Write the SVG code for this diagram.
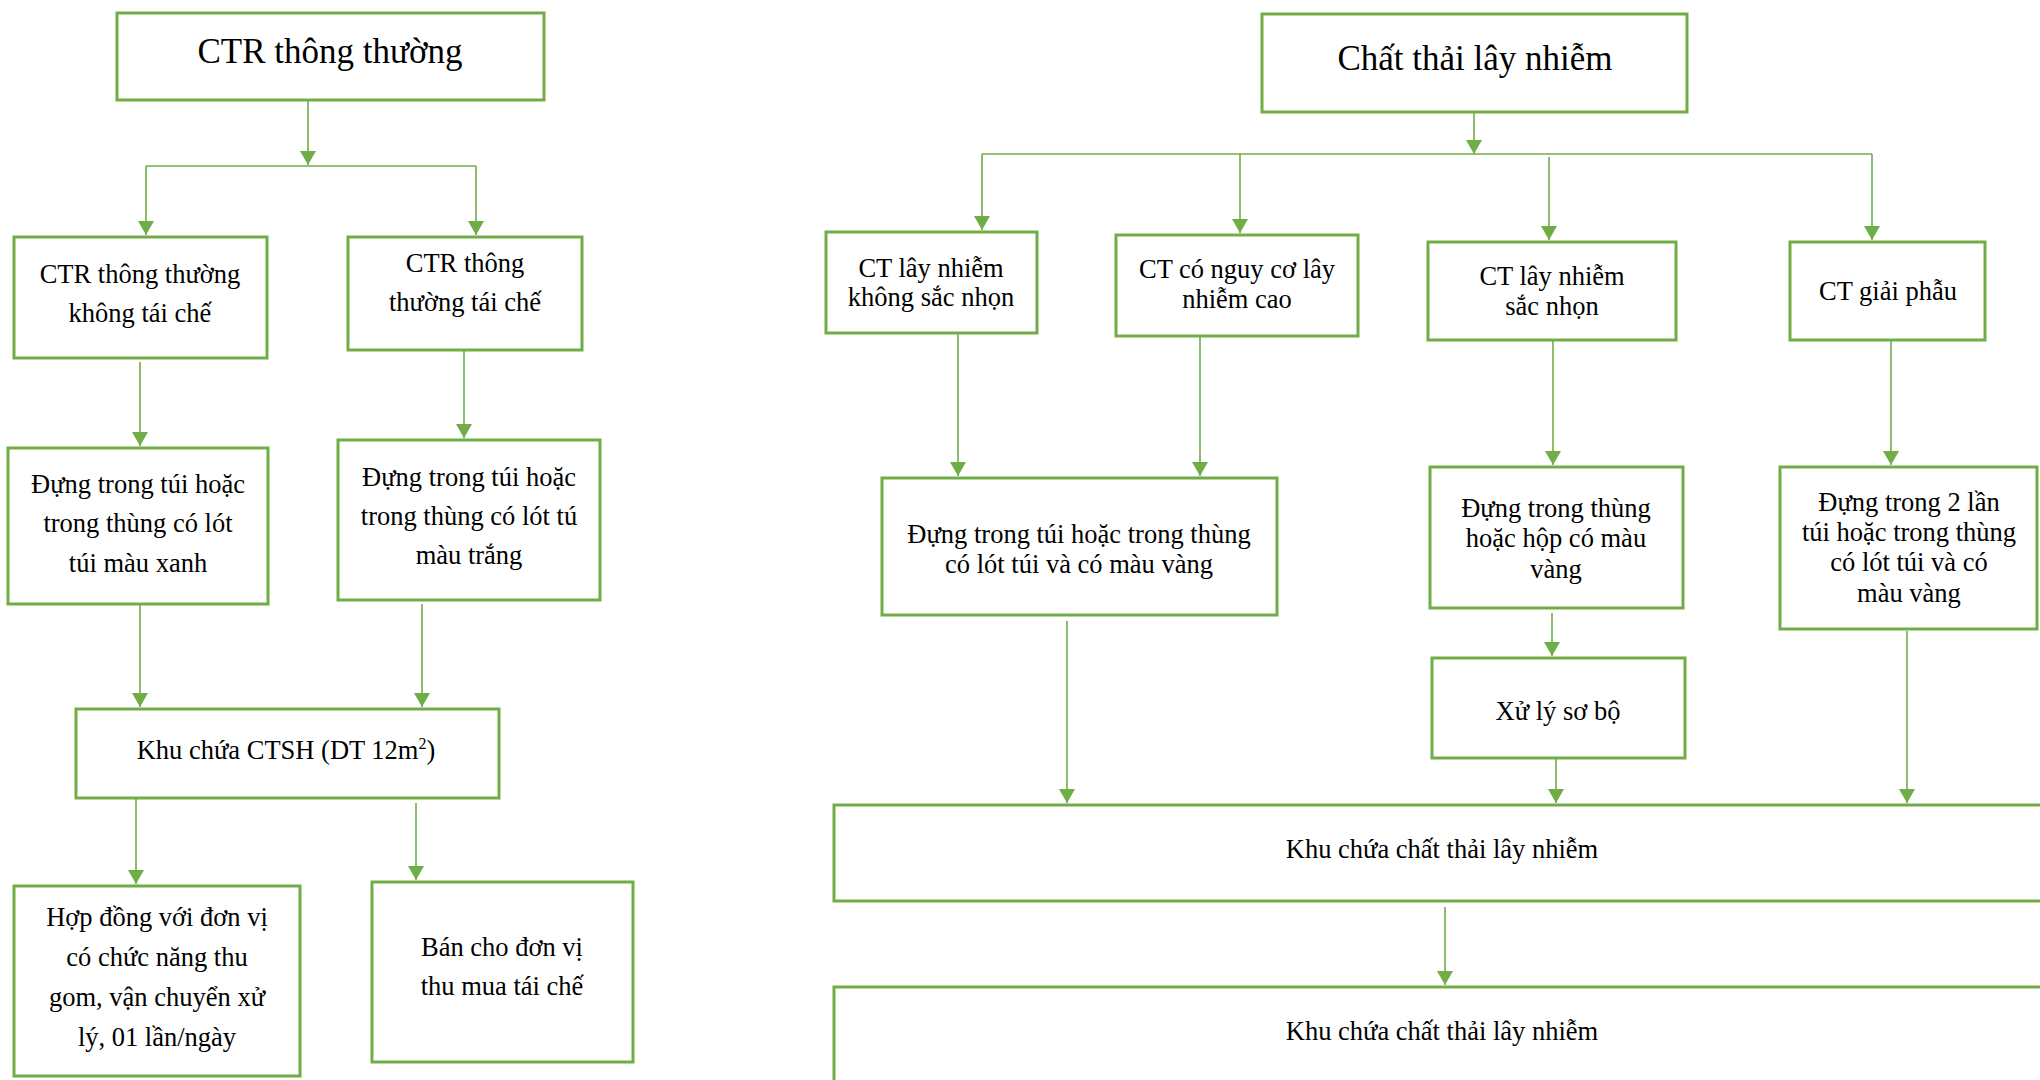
<svg xmlns="http://www.w3.org/2000/svg" width="2040" height="1080" viewBox="0 0 2040 1080">
  <defs>
    <marker id="arrow" markerUnits="userSpaceOnUse" markerWidth="14" markerHeight="16" viewBox="0 0 14 16" refX="14" refY="8" orient="auto">
      <path d="M0,0 L14,8 L0,16 z" fill="#70AD47"/>
    </marker>
    <style>
      .box { fill: #FFFFFF; stroke: #70AD47; stroke-width: 3; }
      .link { fill: none; stroke: #70AD47; stroke-width: 1.6; }
      .arr { marker-end: url(#arrow); }
      text { font-family: "Liberation Serif", "Times New Roman", serif; fill: #000000; text-anchor: middle; }
      .t1 { font-size: 35px; }
      .t2 { font-size: 26.5px; }
    </style>
  </defs>
  <rect width="2040" height="1080" fill="#FFFFFF"/>

  <!-- connectors -->
  <g id="connectors">
    <!-- ordinary solid waste branch -->
    <path class="link arr" d="M308,100 V165"/>
    <path class="link" d="M146,166 H476"/>
    <path class="link arr" d="M146,166 V235"/>
    <path class="link arr" d="M476,166 V235"/>
    <path class="link arr" d="M140,362 V446"/>
    <path class="link arr" d="M464,351 V438"/>
    <path class="link arr" d="M140,604 V707"/>
    <path class="link arr" d="M422,604 V707"/>
    <path class="link arr" d="M136,799 V884"/>
    <path class="link arr" d="M416,803 V880"/>
    <!-- infectious waste branch -->
    <path class="link arr" d="M1474,112 V154"/>
    <path class="link" d="M982,154 H1872"/>
    <path class="link arr" d="M982,154 V230"/>
    <path class="link arr" d="M1240,154 V233"/>
    <path class="link arr" d="M1549,157 V240"/>
    <path class="link arr" d="M1872,154 V240"/>
    <path class="link arr" d="M958,333 V476"/>
    <path class="link arr" d="M1200,336 V476"/>
    <path class="link arr" d="M1553,340 V465"/>
    <path class="link arr" d="M1891,340 V465"/>
    <path class="link arr" d="M1067,621 V803"/>
    <path class="link arr" d="M1552,613 V656"/>
    <path class="link arr" d="M1556,759 V803"/>
    <path class="link arr" d="M1907,631 V803"/>
    <path class="link arr" d="M1445,907 V985"/>
  </g>

  <!-- ordinary solid waste -->
  <g id="ctr-thong-thuong">
    <rect class="box" x="117" y="13" width="427" height="87"/>
    <text class="t1" x="330" y="63">CTR thông thường</text>
  </g>
  <g id="ctr-khong-tai-che">
    <rect class="box" x="14" y="237" width="253" height="121"/>
    <text class="t2" x="140" y="283">CTR thông thường</text>
    <text class="t2" x="140" y="322">không tái chế</text>
  </g>
  <g id="ctr-tai-che">
    <rect class="box" x="348" y="237" width="234" height="113"/>
    <text class="t2" x="465" y="272">CTR thông</text>
    <text class="t2" x="465" y="311">thường tái chế</text>
  </g>
  <g id="tui-mau-xanh">
    <rect class="box" x="8" y="448" width="260" height="156"/>
    <text class="t2" x="138" y="493">Đựng trong túi hoặc</text>
    <text class="t2" x="138" y="532">trong thùng có lót</text>
    <text class="t2" x="138" y="572">túi màu xanh</text>
  </g>
  <g id="tui-mau-trang">
    <rect class="box" x="338" y="440" width="262" height="160"/>
    <text class="t2" x="469" y="486">Đựng trong túi hoặc</text>
    <text class="t2" x="469" y="525">trong thùng có lót tú</text>
    <text class="t2" x="469" y="564">màu trắng</text>
  </g>
  <g id="khu-chua-ctsh">
    <rect class="box" x="76" y="709" width="423" height="89"/>
    <text class="t2" x="286" y="759">Khu chứa CTSH (DT 12m<tspan font-size="16" dy="-10">2</tspan><tspan dy="10">)</tspan></text>
  </g>
  <g id="hop-dong">
    <rect class="box" x="14" y="886" width="286" height="190"/>
    <text class="t2" x="157" y="926">Hợp đồng với đơn vị</text>
    <text class="t2" x="157" y="966">có chức năng thu</text>
    <text class="t2" x="157" y="1006">gom, vận chuyển xử</text>
    <text class="t2" x="157" y="1046">lý, 01 lần/ngày</text>
  </g>
  <g id="ban-tai-che">
    <rect class="box" x="372" y="882" width="261" height="180"/>
    <text class="t2" x="502" y="956">Bán cho đơn vị</text>
    <text class="t2" x="502" y="995">thu mua tái chế</text>
  </g>

  <!-- infectious waste -->
  <g id="chat-thai-lay-nhiem">
    <rect class="box" x="1262" y="14" width="425" height="98"/>
    <text class="t1" x="1475" y="70">Chất thải lây nhiễm</text>
  </g>
  <g id="ct-khong-sac-nhon">
    <rect class="box" x="826" y="232" width="211" height="101"/>
    <text class="t2" x="931" y="277">CT lây nhiễm</text>
    <text class="t2" x="931" y="306">không sắc nhọn</text>
  </g>
  <g id="ct-nguy-co-cao">
    <rect class="box" x="1116" y="235" width="242" height="101"/>
    <text class="t2" x="1237" y="278">CT có nguy cơ lây</text>
    <text class="t2" x="1237" y="308">nhiễm cao</text>
  </g>
  <g id="ct-sac-nhon">
    <rect class="box" x="1428" y="242" width="248" height="98"/>
    <text class="t2" x="1552" y="285">CT lây nhiễm</text>
    <text class="t2" x="1552" y="315">sắc nhọn</text>
  </g>
  <g id="ct-giai-phau">
    <rect class="box" x="1790" y="242" width="195" height="98"/>
    <text class="t2" x="1888" y="300">CT giải phẫu</text>
  </g>
  <g id="tui-mau-vang">
    <rect class="box" x="882" y="478" width="395" height="137"/>
    <text class="t2" x="1079" y="543">Đựng trong túi hoặc trong thùng</text>
    <text class="t2" x="1079" y="573">có lót túi và có màu vàng</text>
  </g>
  <g id="thung-hop-vang">
    <rect class="box" x="1430" y="467" width="253" height="141"/>
    <text class="t2" x="1556" y="517">Đựng trong thùng</text>
    <text class="t2" x="1556" y="547">hoặc hộp có màu</text>
    <text class="t2" x="1556" y="578">vàng</text>
  </g>
  <g id="hai-lan-tui">
    <rect class="box" x="1780" y="467" width="257" height="162"/>
    <text class="t2" x="1909" y="511">Đựng trong 2 lần</text>
    <text class="t2" x="1909" y="541">túi hoặc trong thùng</text>
    <text class="t2" x="1909" y="571">có lót túi và có</text>
    <text class="t2" x="1909" y="602">màu vàng</text>
  </g>
  <g id="xu-ly-so-bo">
    <rect class="box" x="1432" y="658" width="253" height="100"/>
    <text class="t2" x="1558" y="720">Xử lý sơ bộ</text>
  </g>
  <g id="khu-chua-1">
    <rect class="box" x="834" y="805" width="1215" height="96"/>
    <text class="t2" x="1442" y="858">Khu chứa chất thải lây nhiễm</text>
  </g>
  <g id="khu-chua-2">
    <rect class="box" x="834" y="987" width="1215" height="120"/>
    <text class="t2" x="1442" y="1040">Khu chứa chất thải lây nhiễm</text>
  </g>
</svg>
